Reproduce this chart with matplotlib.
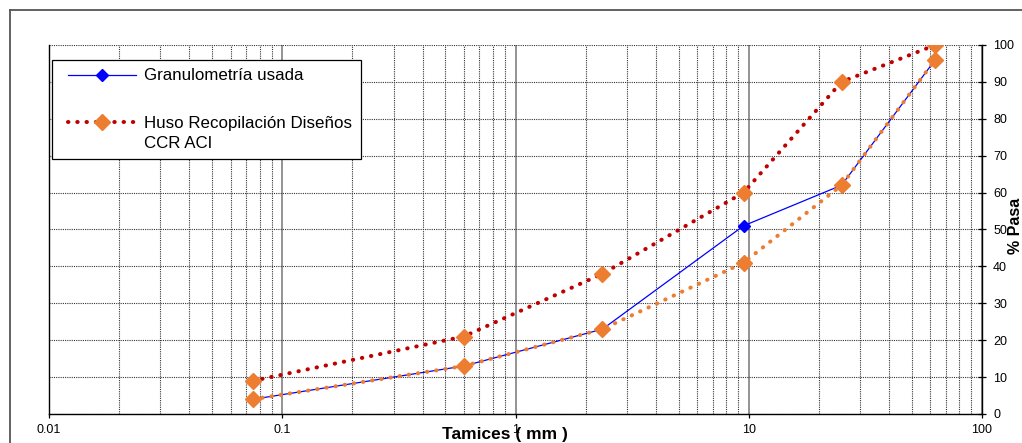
import matplotlib
matplotlib.use("Agg")
import matplotlib.pyplot as plt
from matplotlib.lines import Line2D
from matplotlib.legend_handler import HandlerLine2D
from matplotlib.ticker import LogLocator, FixedLocator, FuncFormatter, NullFormatter

plt.rcParams['font.family'] = ['Liberation Sans', 'DejaVu Sans']

# tamaño de tamiz (mm) y % que pasa
tamiz = [0.075, 0.6, 2.36, 9.5, 25, 63]
granulometria = [4, 13, 23, 51, 62, 96]
huso_sup = [9, 21, 38, 60, 90, 100]
huso_inf = [4, 13, 23, 41, 62, 96]

x_ticks = [0.01, 0.1, 1, 10, 100]
y_ticks = [0, 10, 20, 30, 40, 50, 60, 70, 80, 90, 100]

azul = '#0000FF'
rojo = '#C00000'
naranja = '#ED7D31'
puntos = (0, (0.1, 2.2))


class HandlerCorrido(HandlerLine2D):
    # corre el simbolo a la derecha (y arriba si hace falta)
    def __init__(self, dx=5.4, dy=0.0, **kw):
        super().__init__(**kw)
        self.dx = dx
        self.dy = dy

    def create_artists(self, legend, orig_handle, xdescent, ydescent,
                       width, height, fontsize, trans):
        return super().create_artists(legend, orig_handle, xdescent - self.dx,
                                      ydescent - 2 * self.dy, width - self.dx,
                                      height, fontsize, trans)


fig = plt.figure(figsize=(10.22, 4.43), dpi=100)
ax = fig.add_axes([49 / 1022, 29 / 443, 933 / 1022, 369 / 443])

# marco exterior del grafico
fig.add_artist(Line2D([10 / 1022, 10 / 1022], [0, 1 - 10 / 443], transform=fig.transFigure,
                      color='#555555', lw=1.3))
fig.add_artist(Line2D([10 / 1022, 1], [1 - 10 / 443, 1 - 10 / 443], transform=fig.transFigure,
                      color='#555555', lw=1.3))

ax.plot(tamiz, granulometria, color=azul, lw=0.9, marker='D', ms=6,
        mfc=azul, mec=azul, zorder=3)
ax.plot(tamiz, huso_sup, color=rojo, lw=2.9, linestyle=puntos, dash_capstyle='round',
        marker='D', ms=8, mfc=naranja, mec=naranja, zorder=4)
ax.plot(tamiz, huso_inf, color=naranja, lw=2.9, linestyle=puntos, dash_capstyle='round',
        marker='D', ms=8, mfc=naranja, mec=naranja, zorder=4)

ax.set_xscale('log')
ax.set_xlim(0.01, 100)
ax.set_ylim(0, 100)

ax.xaxis.set_major_locator(FixedLocator(x_ticks))
ax.xaxis.set_major_formatter(FuncFormatter(lambda v, p: '%g' % v))
ax.xaxis.set_minor_locator(LogLocator(base=10, subs=range(2, 10)))
ax.xaxis.set_minor_formatter(NullFormatter())
ax.set_yticks(y_ticks)

ax.yaxis.tick_right()
ax.tick_params(axis='y', which='major', direction='inout', length=6, width=0.9,
               labelsize=9, pad=5, left=False)
ax.tick_params(axis='x', which='major', direction='out', length=3, width=0.9,
               labelsize=9, pad=4)
ax.tick_params(axis='x', which='minor', length=0)

ax.grid(True, which='minor', axis='x', color='#333333', lw=0.8, linestyle=(0, (1, 1)))
ax.grid(True, which='major', axis='x', color='#808080', lw=1.2, linestyle='-')
ax.grid(True, which='major', axis='y', color='#333333', lw=0.8, linestyle=(0, (1, 1)))
ax.set_axisbelow(True)

ax.spines['top'].set_visible(False)
for s in ['left', 'bottom', 'right']:
    ax.spines[s].set_linewidth(1.0)
    ax.spines[s].set_color('black')

ax.set_xlabel('Tamices ( mm )', fontsize=12.5, fontweight='bold', va='center')
ax.xaxis.set_label_coords((505 - 49) / 933, -20 / 369)
ax.set_ylabel('% Pasa', fontsize=11.5, fontweight='bold', va='center', rotation=90)
ax.yaxis.set_label_coords((1015.5 - 49) / 933, (414 - 226) / 369)

h1 = Line2D([], [], color=azul, lw=0.9, marker='D', ms=6, mfc=azul, mec=azul)
h2 = Line2D([], [], color=rojo, lw=2.9, linestyle=puntos, dash_capstyle='round',
            marker='D', ms=8, mfc=naranja, mec=naranja)
leg = ax.legend([h1, h2], ['Granulometría usada', 'Huso Recopilación Diseños\nCCR ACI'],
                handler_map={h1: HandlerCorrido(), h2: HandlerCorrido(dy=8)},
                loc='upper left', bbox_to_anchor=(3 / 933, 1 - 15 / 369),
                borderaxespad=0, fontsize=12.2, frameon=True, fancybox=False,
                edgecolor='black', framealpha=1, handlelength=4.47,
                handletextpad=0.47, labelspacing=1.94, borderpad=0.5, numpoints=1)
for t in leg.get_texts():
    t.set_linespacing(1.35)
leg.get_frame().set_linewidth(0.9)
leg.set_zorder(5)

fig.savefig('out.png', dpi=100)
